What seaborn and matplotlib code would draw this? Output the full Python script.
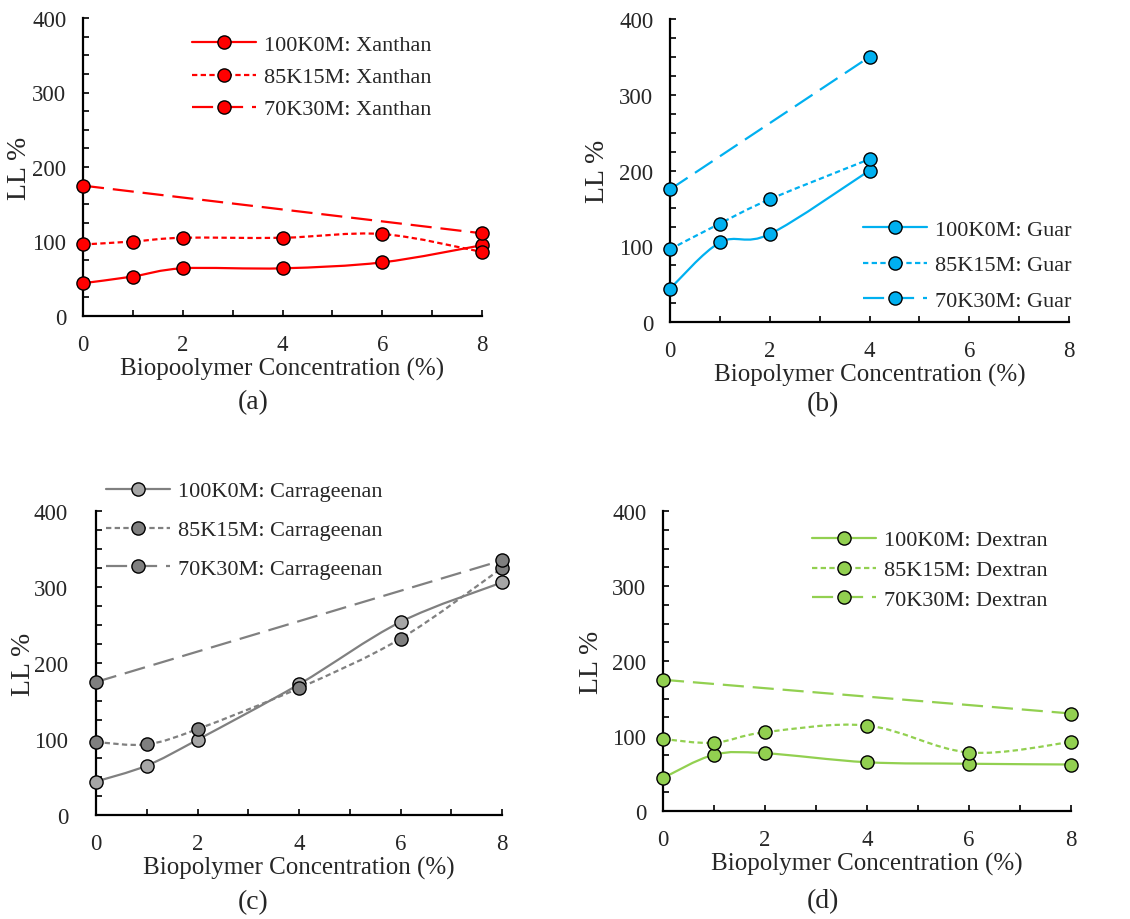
import matplotlib
matplotlib.use("Agg")
import matplotlib.pyplot as plt
import seaborn as sns
from matplotlib.lines import Line2D
from matplotlib.path import Path
from matplotlib.patches import PathPatch
from matplotlib.ticker import MultipleLocator

# ---- data ----
conc_full = [0, 1, 2, 4, 6, 8]
conc_guar = [0, 1, 2, 4]
conc_end_full = [0, 8]
conc_end_guar = [0, 4]

xanthan_100k0m = [44, 53, 64, 64, 72, 95]
xanthan_85k15m = [96, 100, 105, 105, 110, 86]
xanthan_70k30m = [175, 111]

guar_100k0m = [44, 105, 116, 200]
guar_85k15m = [96, 130, 162, 215]
guar_70k30m = [175, 350]

carrageenan_100k0m = [44, 65, 99, 172, 254, 306]
carrageenan_85k15m = [96, 93, 113, 167, 232, 325]
carrageenan_70k30m = [175, 335]

dextran_100k0m = [44, 75, 77, 65, 63, 62]
dextran_85k15m = [96, 91, 105, 114, 78, 92]
dextran_70k30m = [175, 130]

mixes = ["100K0M", "85K15M", "70K30M"]

W, H = 1130, 920

sns.set_style("ticks")
plt.rcParams["font.family"] = ["Liberation Serif", "DejaVu Serif"]

LINESTYLES = ["-", (0, (2.4, 1.5)), (0, (9.5, 4.0))]


def smooth_path(xs, ys):
    # Excel style smoothed line: cubic bezier through every data point
    pts = list(zip(xs, ys))
    n = len(pts)
    verts = [pts[0]]
    codes = [Path.MOVETO]
    for i in range(n - 1):
        p0 = pts[i - 1] if i > 0 else pts[i]
        p1, p2 = pts[i], pts[i + 1]
        p3 = pts[i + 2] if i + 2 < n else pts[i + 1]
        c1 = (p1[0] + (p2[0] - p0[0]) / 6, p1[1] + (p2[1] - p0[1]) / 6)
        c2 = (p2[0] - (p3[0] - p1[0]) / 6, p2[1] - (p3[1] - p1[1]) / 6)
        verts += [c1, c2, p2]
        codes += [Path.CURVE4] * 3
    return Path(verts, codes)


def px_axes(fig, left, right, top, bottom):
    return fig.add_axes([left / W, 1 - bottom / H, (right - left) / W, (bottom - top) / H])


def draw_panel(ax, series, polymer, line_color, faces, xlabel, ypad, ylab_off,
               leg_xy, leg_spacing, caption, cap_xy, fig):
    zo = 3
    for (xs, ys), ls, face in zip(series, LINESTYLES, faces):
        patch = PathPatch(smooth_path(xs, ys), fill=False, edgecolor=line_color,
                          lw=1.6, linestyle=ls, zorder=zo, clip_on=False)
        ax.add_patch(patch)
        sns.scatterplot(x=xs, y=ys, ax=ax, color=face, edgecolor="black",
                        linewidth=1.0, s=90, zorder=zo + 1, clip_on=False, legend=False)
        zo += 2

    ax.set_xlim(0, 8)
    ax.set_ylim(0, 400)
    ax.xaxis.set_major_locator(MultipleLocator(2))
    ax.xaxis.set_minor_locator(MultipleLocator(1))
    ax.yaxis.set_major_locator(MultipleLocator(100))
    ax.yaxis.set_minor_locator(MultipleLocator(25))
    ax.tick_params(which="both", direction="in", length=4.5, width=1.2, color="black")
    ax.tick_params(axis="x", which="major", pad=13, labelsize=16.5)
    ax.tick_params(axis="y", which="major", pad=ypad, labelsize=16.5)
    sns.despine(ax=ax)
    for side in ("left", "bottom"):
        ax.spines[side].set_linewidth(1.6)
        ax.spines[side].set_color("black")

    bb = ax.get_position()
    w_px, h_px = bb.width * W, bb.height * H
    ax.set_xlabel(xlabel, fontsize=18)
    ax.xaxis.label.set_va("center")
    ax.xaxis.set_label_coords(0.5, -52 / h_px)
    ax.set_ylabel("LL %", fontsize=20)
    ax.yaxis.label.set_va("center")
    ax.yaxis.set_label_coords(-ylab_off / w_px, 0.5)

    handles = [Line2D([], [], color=line_color, lw=1.6, ls=ls, marker="o",
                      markersize=9.5, markerfacecolor=face, markeredgecolor="black",
                      markeredgewidth=1.0)
               for ls, face in zip(LINESTYLES, faces)]
    labels = [f"{m}: {polymer}" for m in mixes]
    fig.legend(handles, labels, loc="center left",
               bbox_to_anchor=(leg_xy[0] / W, 1 - (leg_xy[1] + 3) / H),
               frameon=False, fontsize=16, handlelength=2.9, handletextpad=0.35,
               labelspacing=leg_spacing, borderpad=0, borderaxespad=0)

    fig.text(cap_xy[0] / W, 1 - cap_xy[1] / H, caption, fontsize=20,
             ha="center", va="center")


fig = plt.figure(figsize=(W / 100, H / 100), dpi=100)

ax_a = px_axes(fig, 83, 482, 19, 317)
draw_panel(ax_a,
           [(conc_full, xanthan_100k0m), (conc_full, xanthan_85k15m), (conc_end_full, xanthan_70k30m)],
           "Xanthan", "#FF0000", ["#FF0000", "#FF0000", "#FF0000"],
           "Biopoolymer Concentration (%)", 12, 64, (192, 75), 0.52, "(a)", (253, 403), fig)

ax_b = px_axes(fig, 670, 1069, 20, 323)
draw_panel(ax_b,
           [(conc_guar, guar_100k0m), (conc_guar, guar_85k15m), (conc_end_guar, guar_70k30m)],
           "Guar", "#00B0F0", ["#00B0F0", "#00B0F0", "#00B0F0"],
           "Biopolymer Concentration (%)", 12, 72, (863, 263), 0.67, "(b)", (823, 405), fig)

ax_c = px_axes(fig, 96, 502, 512, 816)
draw_panel(ax_c,
           [(conc_full, carrageenan_100k0m), (conc_full, carrageenan_85k15m),
            (conc_end_full, carrageenan_70k30m)],
           "Carrageenan", "#808080", ["#A6A6A6", "#7F7F7F", "#7F7F7F"],
           "Biopolymer Concentration (%)", 20, 73, (106, 528), 0.82, "(c)", (253, 903), fig)

ax_d = px_axes(fig, 663, 1071, 512, 812)
draw_panel(ax_d,
           [(conc_full, dextran_100k0m), (conc_full, dextran_85k15m), (conc_end_full, dextran_70k30m)],
           "Dextran", "#92D050", ["#92D050", "#92D050", "#92D050"],
           "Biopolymer Concentration (%)", 12, 72, (812, 568), 0.42, "(d)", (823, 902), fig)

fig.savefig("out.png", dpi=100)
